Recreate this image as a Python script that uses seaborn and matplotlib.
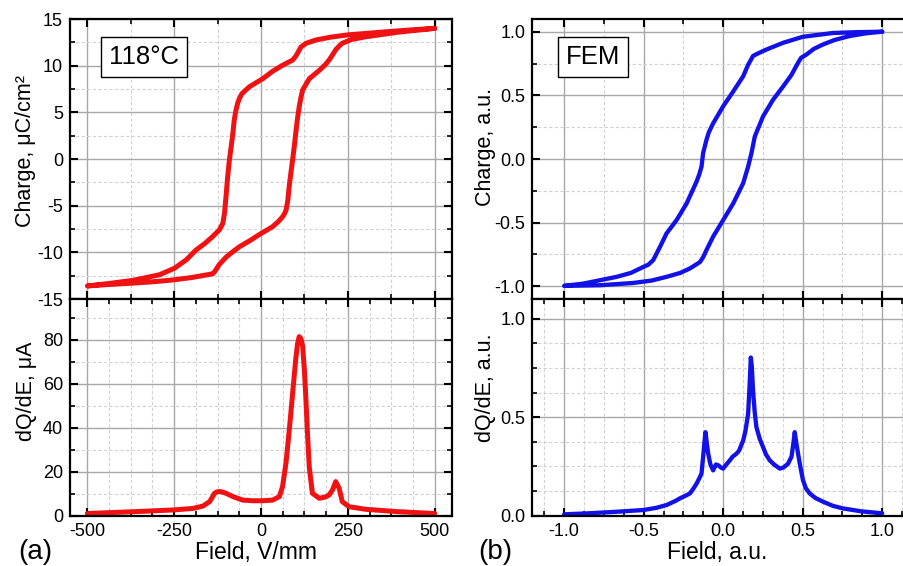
import matplotlib
matplotlib.use("Agg")
import matplotlib.pyplot as plt
import numpy as np
import pandas as pd
import seaborn as sns
from matplotlib.ticker import MultipleLocator, FormatStrFormatter

# ---- (a) measured P-E loop at 118 °C ----
meas_down_E = [500, 420, 350, 250, 200, 158, 130, 115, 100, 91, 60, 33.5, 5,
               -33, -55, -62, -67, -72, -77, -81, -86, -91, -96, -100, -105,
               -110, -120, -139, -160, -187, -215, -249, -292, -369, -440, -500]
meas_down_Q = [14.0, 13.8, 13.6, 13.3, 13.05, 12.75, 12.4, 12.0, 11.0, 10.6,
               10.0, 9.4, 8.6, 7.75, 7.0, 6.5, 6.0, 5.25, 4.2, 2.75, 1.3, -0.1,
               -1.9, -3.7, -5.8, -6.9, -7.6, -8.3, -9.0, -9.75, -10.8, -11.7,
               -12.4, -13.0, -13.35, -13.6]
meas_up_E = [-500, -440, -369, -300, -254, -200, -139, -134, -120, -100, -80,
             -62, -30, -5, 33.5, 50, 62, 67, 72, 77, 81, 86, 91, 96, 100, 105,
             110, 115, 120, 139, 168, 185, 196, 205, 215, 225, 234, 260, 302,
             350, 397, 450, 500]
meas_up_Q = [-13.6, -13.45, -13.3, -13.12, -12.96, -12.7, -12.3, -12.1, -11.3,
             -10.5, -9.9, -9.4, -8.7, -8.1, -7.25, -6.7, -6.2, -5.9, -5.5,
             -4.5, -3.0, -1.5, -0.1, 1.4, 2.75, 4.3, 5.6, 6.6, 7.4, 8.6, 9.5,
             10.1, 10.6, 11.1, 11.7, 12.1, 12.4, 12.8, 13.1, 13.35, 13.6, 13.8,
             14.0]

# switching current of the measured loop
meas_E = [-500, -369, -254, -196, -167, -148, -140, -134, -127, -120, -110,
          -101, -81, -53, -25, 5, 33.5, 53, 62, 72, 79, 86, 93, 100, 105, 110,
          115, 120, 125, 129, 134, 139, 148, 168, 185, 196, 206, 212, 215, 220,
          225, 234, 253, 302, 397, 500]
meas_dQdE = [1.0, 1.8, 2.6, 3.3, 4.4, 6.4, 8.5, 10.2, 10.8, 11.0, 10.7, 10.2,
             8.7, 7.1, 6.8, 6.8, 7.1, 8.7, 13.2, 24, 35, 46.7, 59, 71, 78, 81.4,
             80.5, 77, 66, 54, 37, 22, 10.2, 7.9, 8.5, 9.4, 11.7, 14.2, 15.5,
             14.0, 12.5, 6.4, 4.1, 2.9, 1.8, 1.0]

# ---- (b) FEM loop, normalised ----
fem_down_E = [1.0, 0.85, 0.69, 0.5, 0.377, 0.272, 0.22, 0.188, 0.157, 0.126,
              0.063, 0.0, -0.063, -0.09, -0.105, -0.126, -0.136, -0.15, -0.167,
              -0.23, -0.293, -0.356, -0.397, -0.44, -0.47, -0.502, -0.58,
              -0.67, -0.879, -1.0]
fem_down_Q = [1.0, 0.997, 0.99, 0.96, 0.913, 0.86, 0.83, 0.81, 0.74, 0.65,
              0.53, 0.414, 0.28, 0.21, 0.15, 0.046, -0.06, -0.12, -0.177,
              -0.35, -0.48, -0.585, -0.69, -0.795, -0.83, -0.848, -0.895,
              -0.926, -0.979, -0.997]
fem_up_E = [-1.0, -0.774, -0.565, -0.45, -0.356, -0.27, -0.209, -0.146,
            -0.125, -0.105, -0.063, 0.0, 0.063, 0.126, 0.157, 0.178, 0.199,
            0.251, 0.314, 0.377, 0.429, 0.471, 0.49, 0.523, 0.57, 0.628, 0.7,
            0.795, 0.9, 1.0]
fem_up_Q = [-0.997, -0.992, -0.974, -0.955, -0.926, -0.895, -0.86, -0.81,
            -0.77, -0.716, -0.61, -0.48, -0.35, -0.19, -0.06, 0.046, 0.177,
            0.335, 0.466, 0.57, 0.66, 0.756, 0.795, 0.82, 0.865, 0.9, 0.935,
            0.966, 0.988, 1.0]

fem_E = [-1.0, -0.85, -0.67, -0.5, -0.42, -0.356, -0.3, -0.272, -0.24, -0.209,
         -0.185, -0.167, -0.15, -0.136, -0.126, -0.118, -0.111, -0.103, -0.094,
         -0.08, -0.063, -0.045, -0.031, -0.015, 0.0, 0.02, 0.042, 0.06, 0.084,
         0.1, 0.115, 0.126, 0.14, 0.157, 0.165, 0.174, 0.18, 0.188, 0.198,
         0.209, 0.23, 0.251, 0.27, 0.293, 0.32, 0.356, 0.38, 0.408, 0.43,
         0.442, 0.45, 0.46, 0.471, 0.485, 0.502, 0.52, 0.544, 0.58, 0.628,
         0.69, 0.753, 0.87, 1.0]
fem_dQdE = [0.007, 0.012, 0.02, 0.029, 0.04, 0.054, 0.075, 0.088, 0.1, 0.113,
            0.14, 0.163, 0.19, 0.214, 0.298, 0.37, 0.424, 0.37, 0.315, 0.26,
            0.23, 0.26, 0.256, 0.245, 0.239, 0.26, 0.281, 0.3, 0.315, 0.33,
            0.36, 0.382, 0.43, 0.517, 0.64, 0.803, 0.76, 0.635, 0.53, 0.45,
            0.39, 0.348, 0.31, 0.281, 0.26, 0.239, 0.245, 0.264, 0.3, 0.37,
            0.424, 0.37, 0.315, 0.25, 0.18, 0.14, 0.113, 0.09, 0.071, 0.05,
            0.037, 0.022, 0.012]

RED = "#f01212"
BLUE = "#1212e8"

sns.set_theme(style="white")
plt.rcParams["font.family"] = ["Liberation Sans", "DejaVu Sans"]
plt.rcParams["axes.unicode_minus"] = False
plt.rcParams["text.color"] = "black"
plt.rcParams["axes.labelcolor"] = "black"

fig = plt.figure(figsize=(9.04, 5.66), dpi=100)
W, H = 904.0, 566.0


def add_axes(x0, x1, y0, y1):
    return fig.add_axes([x0 / W, 1 - y1 / H, (x1 - x0) / W, (y1 - y0) / H])


ax_a1 = add_axes(70, 452, 19, 299)
ax_a2 = add_axes(70, 452, 299, 515.7)
ax_b1 = add_axes(532.3, 914, 19, 299)
ax_b2 = add_axes(532.3, 914, 299, 515.7)


def style(ax, xmaj, xmin, ymaj, ymin, xlim, ylim, fmt=None, show_x=True):
    ax.set_xlim(*xlim)
    ax.set_ylim(*ylim)
    ax.xaxis.set_major_locator(MultipleLocator(xmaj))
    ax.xaxis.set_minor_locator(MultipleLocator(xmin))
    ax.yaxis.set_major_locator(MultipleLocator(ymaj))
    ax.yaxis.set_minor_locator(MultipleLocator(ymin))
    if fmt:
        ax.xaxis.set_major_formatter(FormatStrFormatter(fmt))
        ax.yaxis.set_major_formatter(FormatStrFormatter(fmt))
    ax.grid(True, which="major", color="#a8a8a8", lw=1.0, ls="-")
    ax.grid(True, which="minor", color="#d2d2d2", lw=0.8, ls=(0, (3, 2)))
    ax.set_axisbelow(True)
    for s in ax.spines.values():
        s.set_color("black")
        s.set_linewidth(1.6)
    ax.tick_params(which="both", direction="in", top=True, right=True,
                   bottom=True, left=True, colors="black", labelsize=13,
                   pad=5)
    ax.tick_params(which="major", length=6, width=1.5)
    ax.tick_params(which="minor", length=3.5, width=1.2)
    if not show_x:
        ax.tick_params(labelbottom=False)
    ax.set_xlabel("")
    ax.set_ylabel("")


def draw(df, y, color, lw, ax):
    sns.lineplot(data=df, x="E", y=y, sort=False, estimator=None,
                 color=color, lw=lw, ax=ax)
    for ln in ax.get_lines():
        ln.set_solid_joinstyle("round")
        ln.set_solid_capstyle("round")


# panel (a), loop
loop_a = pd.DataFrame({"E": meas_down_E + meas_up_E,
                       "Q": meas_down_Q + meas_up_Q})
draw(loop_a, "Q", RED, 3.6, ax_a1)
style(ax_a1, 250, 125, 5, 2.5, (-550, 550), (-15, 15), show_x=False)
ax_a1.text(0.194, 0.864, "118°C", transform=ax_a1.transAxes, fontsize=18.5,
           ha="center", va="center",
           bbox=dict(boxstyle="square,pad=0.32", fc="white", ec="black", lw=1.0))

# panel (a), derivative
cur_a = pd.DataFrame({"E": meas_E, "dQdE": meas_dQdE})
draw(cur_a, "dQdE", RED, 3.6, ax_a2)
style(ax_a2, 250, 62.5, 20, 10, (-550, 550), (0, 98.5))

# panel (b), loop
loop_b = pd.DataFrame({"E": fem_down_E + fem_up_E,
                       "Q": fem_down_Q + fem_up_Q})
draw(loop_b, "Q", BLUE, 3.1, ax_b1)
style(ax_b1, 0.5, 0.25, 0.5, 0.25, (-1.2, 1.2), (-1.1, 1.1), fmt="%.1f",
      show_x=False)
ax_b1.text(0.159, 0.864, "FEM", transform=ax_b1.transAxes, fontsize=18.5,
           ha="center", va="center",
           bbox=dict(boxstyle="square,pad=0.32", fc="white", ec="black", lw=1.0))

# panel (b), derivative
cur_b = pd.DataFrame({"E": fem_E, "dQdE": fem_dQdE})
draw(cur_b, "dQdE", BLUE, 3.1, ax_b2)
style(ax_b2, 0.5, 0.125, 0.5, 0.125, (-1.2, 1.2), (0, 1.1), fmt="%.1f")

# axis labels
ax_a1.set_ylabel("Charge, μC/cm²", fontsize=15.5)
ax_a1.yaxis.set_label_coords(-0.088, 0.529)
ax_a2.set_ylabel("dQ/dE, μA", fontsize=15.5)
ax_a2.yaxis.set_label_coords(-0.086, 0.575)
ax_a2.set_xlabel("Field, V/mm", fontsize=16.5)
ax_a2.xaxis.set_label_coords(0.487, -0.117)

ax_b1.set_ylabel("Charge, a.u.", fontsize=15.5)
ax_b1.yaxis.set_label_coords(-0.095, 0.543)
ax_b2.set_ylabel("dQ/dE, a.u.", fontsize=15.5)
ax_b2.yaxis.set_label_coords(-0.095, 0.59)
ax_b2.set_xlabel("Field, a.u.", fontsize=16.5)
ax_b2.xaxis.set_label_coords(0.485, -0.117)

# panel letters
fig.text(18 / W, 1 - 559 / H, "(a)", fontsize=20, ha="left", va="baseline")
fig.text(478 / W, 1 - 559 / H, "(b)", fontsize=20, ha="left", va="baseline")

fig.savefig("out.png", dpi=100)
